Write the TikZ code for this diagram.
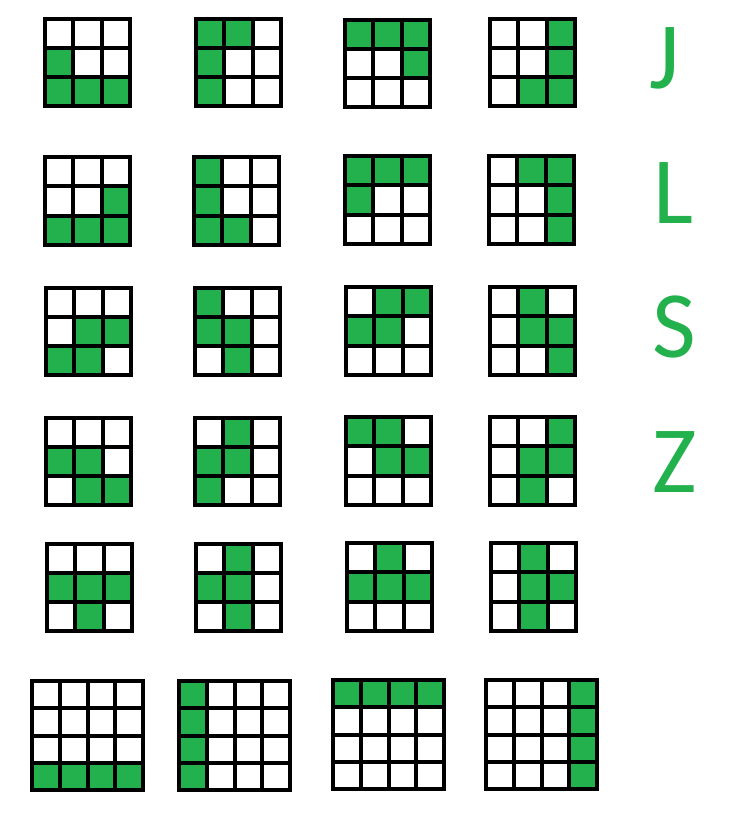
\documentclass[tikz,border=0pt]{standalone}
\usepackage{fontspec}
\setmainfont{Carlito}
\definecolor{tgreen}{RGB}{34,177,76}
\tikzset{
  gridline/.style={draw=black, line width=4pt, line join=miter},
  cellfill/.style={fill=tgreen},
  letter/.style={text=tgreen, inner sep=0pt, anchor=base, font=\fontsize{95}{95}\selectfont}
}
\newcommand{\tgrid}[6]{%
  \pgfmathsetmacro{\gw}{(#3-#1-4)/#5}%
  \pgfmathsetmacro{\gh}{(#4-#2-4)/#5}%
  \pgfmathtruncatemacro{\gnm}{#5-1}%
  \begin{scope}[shift={(#1+2,#2+2)}]
    \foreach \c/\r in {#6} {\fill[cellfill] (\c*\gw,\r*\gh) rectangle ++(\gw,\gh);}
    \foreach \i in {1,...,\gnm} {
      \draw[gridline] (\i*\gw,0) -- (\i*\gw,#5*\gh);
      \draw[gridline] (0,\i*\gh) -- (#5*\gw,\i*\gh);
    }
    \draw[gridline] (0,0) rectangle (#5*\gw,#5*\gh);
  \end{scope}}
\begin{document}
\begin{tikzpicture}[x=1pt,y=-1pt]
\useasboundingbox (0,0) rectangle (735,823);
% Row 1 (J)
\tgrid{43}{17}{132}{108}{3}{0/1,0/2,1/2,2/2}
\tgrid{194}{17}{283}{108}{3}{0/0,1/0,0/1,0/2}
\tgrid{343}{18}{432}{109}{3}{0/0,1/0,2/0,2/1}
\tgrid{488}{17}{577}{108}{3}{2/0,2/1,1/2,2/2}
% Row 2 (L)
\tgrid{43}{155}{132}{247}{3}{2/1,0/2,1/2,2/2}
\tgrid{192}{155}{281}{247}{3}{0/0,0/1,0/2,1/2}
\tgrid{343}{154}{432}{246}{3}{0/0,1/0,2/0,0/1}
\tgrid{487}{154}{576}{246}{3}{1/0,2/0,2/1,2/2}
% Row 3 (S)
\tgrid{44}{286}{133}{377}{3}{1/1,2/1,0/2,1/2}
\tgrid{193}{286}{282}{377}{3}{0/0,0/1,1/1,1/2}
\tgrid{344}{285}{433}{377}{3}{1/0,2/0,0/1,1/1}
\tgrid{488}{285}{577}{377}{3}{1/0,1/1,2/1,2/2}
% Row 4 (Z)
\tgrid{44}{416}{133}{507}{3}{0/1,1/1,1/2,2/2}
\tgrid{193}{416}{282}{507}{3}{1/0,0/1,1/1,0/2}
\tgrid{344}{415}{433}{507}{3}{0/0,1/0,1/1,2/1}
\tgrid{488}{415}{577}{507}{3}{2/0,1/1,2/1,1/2}
% Row 5 (T)
\tgrid{45}{542}{134}{633}{3}{0/1,1/1,2/1,1/2}
\tgrid{194}{542}{283}{633}{3}{1/0,0/1,1/1,1/2}
\tgrid{345}{541}{434}{633}{3}{1/0,0/1,1/1,2/1}
\tgrid{489}{541}{578}{633}{3}{1/0,1/1,2/1,1/2}
% Row 6 (I)
\tgrid{30}{679}{145}{792}{4}{0/3,1/3,2/3,3/3}
\tgrid{177}{679}{292}{792}{4}{0/0,0/1,0/2,0/3}
\tgrid{331}{678}{446}{791}{4}{0/0,1/0,2/0,3/0}
\tgrid{484}{678}{599}{791}{4}{3/0,3/1,3/2,3/3}
% Letters
\node[letter] (lJ) at (665,88) {J};
\node[letter] (lL) at (673,223) {L};
\node[letter] (lS) at (674,357) {S};
\node[letter] (lZ) at (675,492) {Z};
\end{tikzpicture}
\end{document}
